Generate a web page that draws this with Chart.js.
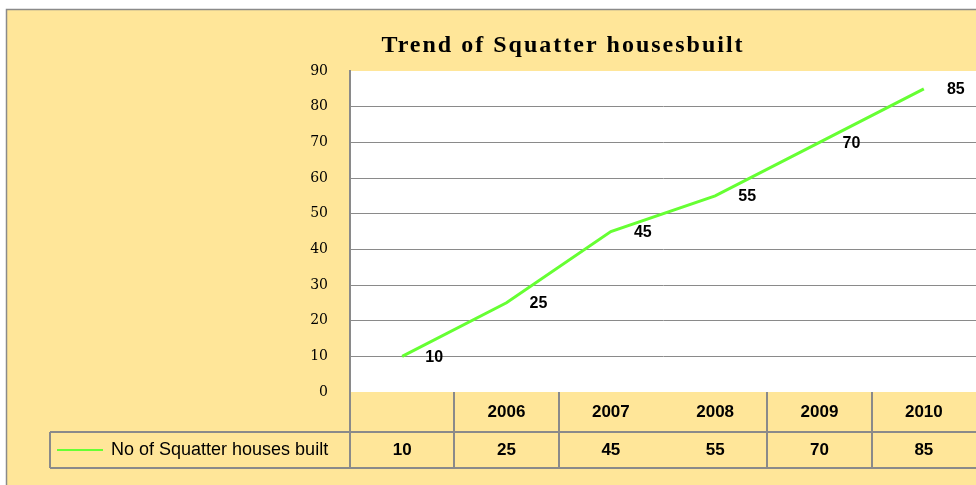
<!DOCTYPE html>
<html><head><meta charset="utf-8">
<script src="https://cdn.jsdelivr.net/npm/chart.js@4"></script>
<style>html,body{margin:0;padding:0;background:#fff;overflow:hidden}canvas{display:block}</style>
</head><body>
<canvas id="c" width="976" height="485"></canvas>
<script>
const chartTitle = 'Trend of Squatter housesbuilt';
const seriesName = 'No of Squatter houses built';
const categories = ['', '2006', '2007', '2008', '2009', '2010'];
const housesBuilt = [10, 25, 45, 55, 70, 85];
const yMin = 0, yMax = 90, yStep = 10;

const GRAY = '#8a8a8a', YELLOW = '#ffe699', GREEN = '#66ff33';

function seg(ctx, x1, y1, x2, y2) { ctx.beginPath(); ctx.moveTo(x1, y1); ctx.lineTo(x2, y2); ctx.stroke(); }

const framePlugin = {
  id: 'frame',
  beforeDraw(chart) {
    const {ctx, chartArea: a, width, height} = chart;
    ctx.save();
    ctx.fillStyle = '#fff'; ctx.fillRect(0, 0, width, height);
    ctx.fillStyle = YELLOW; ctx.fillRect(6, 9, width - 6, height - 9);
    ctx.strokeStyle = GRAY; ctx.lineWidth = 1.5;
    ctx.beginPath(); ctx.moveTo(6.5, height); ctx.lineTo(6.5, 9.5); ctx.lineTo(width, 9.5); ctx.stroke();
    ctx.fillStyle = '#fff'; ctx.fillRect(a.left, a.top, a.right - a.left, a.bottom - a.top);
    ctx.fillStyle = '#000';
    ctx.font = 'bold 24px "Liberation Serif"';
    if ('letterSpacing' in ctx) ctx.letterSpacing = '2px';
    ctx.textAlign = 'center'; ctx.textBaseline = 'alphabetic';
    ctx.fillText(chartTitle, 563, 52);
    ctx.restore();
  },
  afterDraw(chart) {
    const {ctx, chartArea: a} = chart;
    const xs = chart.scales.x;
    const rowTop = a.bottom + 40, rowBottom = a.bottom + 76, rowMid = (rowTop + rowBottom) / 2;
    ctx.save();
    ctx.strokeStyle = GRAY; ctx.lineWidth = 2;
    seg(ctx, 50, rowTop, a.right, rowTop);
    seg(ctx, 50, rowBottom, a.right, rowBottom);
    seg(ctx, 50, rowTop, 50, rowBottom);
    seg(ctx, a.left, a.bottom, a.left, rowBottom);
    for (let i = 1; i < categories.length; i++) {
      if (i === 3) continue;
      const bx = Math.round((xs.getPixelForValue(i - 1) + xs.getPixelForValue(i)) / 2);
      seg(ctx, bx, a.bottom, bx, rowBottom);
    }
    // legend key
    ctx.strokeStyle = GREEN; ctx.lineWidth = 2;
    seg(ctx, 57, rowMid, 103, rowMid);
    ctx.fillStyle = '#000';
    ctx.textBaseline = 'middle';
    ctx.textAlign = 'left';
    ctx.font = '18px "Liberation Sans"';
    ctx.fillText(seriesName, 111, rowMid);
    ctx.textAlign = 'center';
    ctx.font = 'bold 17px "Liberation Sans"';
    housesBuilt.forEach((v, i) => ctx.fillText(String(v), xs.getPixelForValue(i), rowMid));
    ctx.restore();
  }
};

const labelsPlugin = {
  id: 'pointLabels',
  afterDatasetsDraw(chart) {
    const {ctx} = chart;
    const meta = chart.getDatasetMeta(0);
    ctx.save();
    ctx.fillStyle = '#000';
    ctx.font = 'bold 16px "Liberation Sans"';
    ctx.textAlign = 'center'; ctx.textBaseline = 'middle';
    meta.data.forEach((pt, i) => ctx.fillText(String(housesBuilt[i]), pt.x + 32, pt.y + 1));
    ctx.restore();
  }
};

new Chart(document.getElementById('c'), {
  type: 'line',
  data: {
    labels: categories,
    datasets: [{
      label: seriesName, data: housesBuilt, borderColor: GREEN, backgroundColor: GREEN,
      borderWidth: 3, pointRadius: 0, tension: 0, fill: false
    }]
  },
  options: {
    responsive: false, animation: false, devicePixelRatio: 1,
    layout: {padding: {top: 71, left: 0, right: 0, bottom: 0}},
    plugins: {legend: {display: false}, title: {display: false}, tooltip: {enabled: false}},
    scales: {
      x: {
        type: 'category', offset: true,
        grid: {display: false, drawTicks: false}, border: {display: false},
        ticks: {color: '#000', font: {family: 'Liberation Sans', size: 17, weight: 'bold'}, padding: 10, maxRotation: 0, autoSkip: false},
        afterFit(s) { s.height = 93; }
      },
      y: {
        min: yMin, max: yMax,
        grid: {color: c => (c.tick.value === yMin || c.tick.value === yMax) ? 'rgba(0,0,0,0)' : GRAY, lineWidth: 1, drawTicks: false},
        border: {display: true, color: GRAY, width: 2},
        ticks: {stepSize: yStep, color: '#000', font: {family: 'DejaVu Serif', size: 14}, padding: 22},
        afterFit(s) { s.width = 350; }
      }
    }
  },
  plugins: [framePlugin, labelsPlugin]
});
</script>
</body></html>
